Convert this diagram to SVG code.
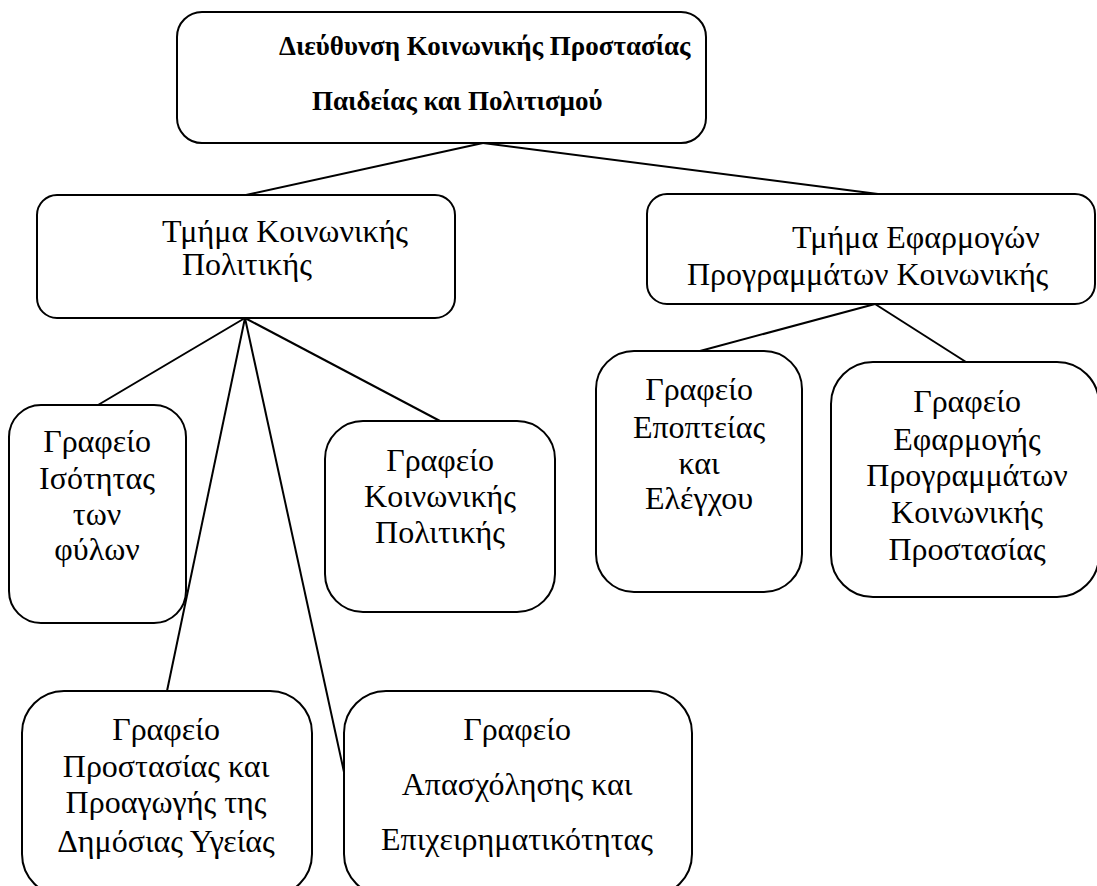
<svg xmlns="http://www.w3.org/2000/svg" width="1097" height="886" viewBox="0 0 1097 886">
<style>
.box{fill:#fff;stroke:#000;stroke-width:2}
.t{font-family:"Liberation Serif","Times New Roman",serif;font-size:32px;fill:#000}
.c{text-anchor:middle}
.b{font-weight:bold;font-size:27px}
.ln{stroke:#000;stroke-width:2;fill:none}
</style>
<rect width="1097" height="886" fill="#fff"/>
<g id="connectors">
<line class="ln" x1="483" y1="143" x2="246" y2="195"/>
<line class="ln" x1="483" y1="143" x2="878" y2="194"/>
<line class="ln" x1="245" y1="318" x2="98" y2="405"/>
<line class="ln" x1="245" y1="318" x2="440" y2="421"/>
<line class="ln" x1="245" y1="318" x2="167" y2="691"/>
<line class="ln" x1="245" y1="318" x2="344" y2="772"/>
<line class="ln" x1="875" y1="304" x2="700" y2="351"/>
<line class="ln" x1="875" y1="304" x2="966" y2="362"/>
</g>
<g id="n-directorate">
<rect class="box" x="177" y="12" width="529" height="131" rx="25"/>
<text class="t b" x="279" y="55">Διεύθυνση Κοινωνικής Προστασίας</text>
<text class="t b" x="312" y="110">Παιδείας και Πολιτισμού</text>
</g>
<g id="n-social-policy-dept">
<rect class="box" x="37" y="195" width="418" height="123" rx="20"/>
<text class="t" x="162" y="242">Τμήμα Κοινωνικής</text>
<text class="t" x="182" y="275">Πολιτικής</text>
</g>
<g id="n-programs-dept">
<rect class="box" x="647" y="194" width="448" height="110" rx="20"/>
<text class="t" x="792" y="248">Τμήμα Εφαρμογών</text>
<text class="t" x="687" y="285">Προγραμμάτων Κοινωνικής</text>
</g>
<g id="n-gender-equality">
<rect class="box" x="9" y="405" width="177" height="218" rx="32"/>
<text class="t c" x="97" y="452">Γραφείο</text>
<text class="t c" x="97" y="489">Ισότητας</text>
<text class="t c" x="97" y="525">των</text>
<text class="t c" x="97" y="560">φύλων</text>
</g>
<g id="n-social-policy-office">
<rect class="box" x="325" y="421" width="230" height="191" rx="38"/>
<text class="t c" x="440" y="471">Γραφείο</text>
<text class="t c" x="440" y="507">Κοινωνικής</text>
<text class="t c" x="440" y="543">Πολιτικής</text>
</g>
<g id="n-supervision">
<rect class="box" x="596" y="351" width="206" height="241" rx="38"/>
<text class="t c" x="699" y="400">Γραφείο</text>
<text class="t c" x="699" y="438">Εποπτείας</text>
<text class="t c" x="699" y="474">και</text>
<text class="t c" x="699" y="509">Ελέγχου</text>
</g>
<g id="n-programs-office">
<rect class="box" x="831" y="362" width="268" height="235" rx="42"/>
<text class="t c" x="967" y="412">Γραφείο</text>
<text class="t c" x="967" y="450">Εφαρμογής</text>
<text class="t c" x="967" y="486">Προγραμμάτων</text>
<text class="t c" x="967" y="523">Κοινωνικής</text>
<text class="t c" x="967" y="560">Προστασίας</text>
</g>
<g id="n-public-health">
<rect class="box" x="22" y="691" width="290" height="205" rx="42"/>
<text class="t c" x="166" y="740">Γραφείο</text>
<text class="t c" x="166" y="777">Προστασίας και</text>
<text class="t c" x="166" y="813">Προαγωγής της</text>
<text class="t c" x="166" y="852">Δημόσιας Υγείας</text>
</g>
<g id="n-employment">
<rect class="box" x="344" y="691" width="348" height="205" rx="42"/>
<text class="t c" x="517" y="740">Γραφείο</text>
<text class="t c" x="517" y="795">Απασχόλησης και</text>
<text class="t c" x="517" y="850">Επιχειρηματικότητας</text>
</g>
</svg>
